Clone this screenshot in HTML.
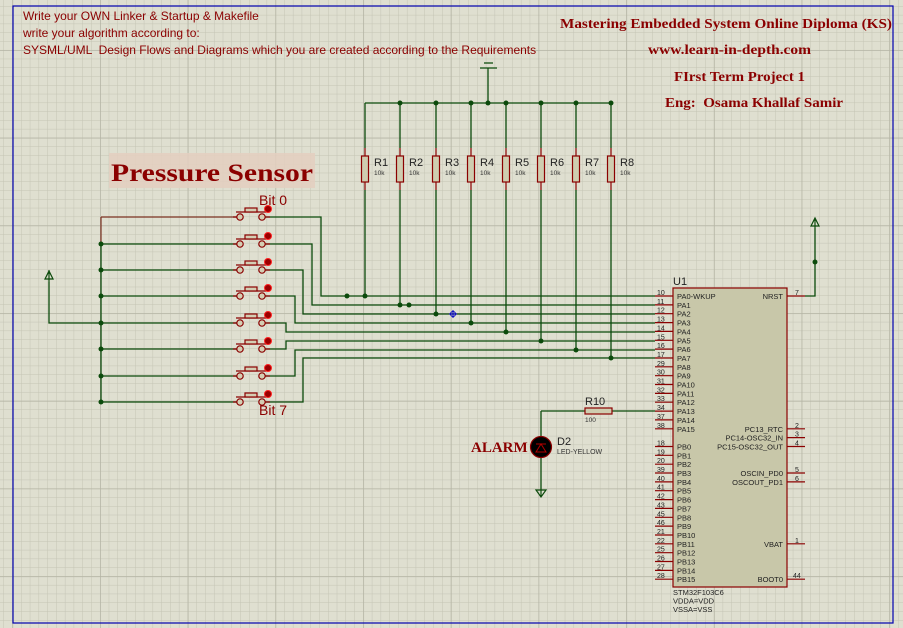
<!DOCTYPE html>
<html><head><meta charset="utf-8"><style>
html,body{margin:0;padding:0;background:#dfdfd0;}
svg{display:block;}
.s{font-family:"Liberation Sans",sans-serif;}
.pn{font-family:"Liberation Sans",sans-serif;font-size:7px;fill:#222;}
.pt{font-family:"Liberation Sans",sans-serif;font-size:7.5px;fill:#222;}
.sr{font-family:"Liberation Serif",serif;font-weight:bold;fill:#8b0000;}
</style></head><body>
<svg width="903" height="628" viewBox="0 0 903 628" xmlns="http://www.w3.org/2000/svg">
<defs>
<pattern id="mi" patternUnits="userSpaceOnUse" x="3.5" y="6.1" width="8.77" height="8.77">
<path d="M0 0H8.77M0 0V8.77" stroke="#c4c4b4" stroke-width="1" fill="none"/></pattern>
<pattern id="ma" patternUnits="userSpaceOnUse" x="100" y="50" width="87.7" height="87.7">
<path d="M0 0H87.7M0 0V87.7" stroke="#b4b4a4" stroke-width="1.5" fill="none"/></pattern>
</defs>
<rect width="903" height="628" fill="#dfdfd0"/>
<rect width="903" height="628" fill="url(#mi)"/>
<rect width="903" height="628" fill="url(#ma)"/>
<rect x="13" y="6" width="880" height="617" fill="none" stroke="#0000b0" stroke-width="1.2"/>

<!-- top left text -->
<g class="s" font-size="12" fill="#8b0000">
<text x="23" y="20">Write your OWN Linker &amp; Startup &amp; Makefile</text>
<text x="23" y="37">write your algorithm according to:</text>
<text x="23" y="54" xml:space="preserve">SYSML/UML  Design Flows and Diagrams which you are created according to the Requirements</text>
</g>
<!-- top right -->
<g class="sr" font-size="13.5">
<text x="560" y="28" textLength="332" lengthAdjust="spacingAndGlyphs">Mastering Embedded System Online Diploma (KS)</text>
<text x="648" y="54" textLength="163" lengthAdjust="spacingAndGlyphs">www.learn-in-depth.com</text>
<text x="674" y="81" textLength="131" lengthAdjust="spacingAndGlyphs">FIrst Term Project 1</text>
<text x="665" y="107" textLength="178" lengthAdjust="spacingAndGlyphs" xml:space="preserve">Eng:  Osama Khallaf Samir</text>
</g>

<!-- Pressure sensor -->
<rect x="109" y="153" width="206" height="35" fill="#e4cfc0" opacity="0.85"/>
<text class="sr" x="111" y="181" font-size="25" textLength="202" lengthAdjust="spacingAndGlyphs">Pressure Sensor</text>

<g stroke="#0b4a0b" stroke-width="1.3" fill="none">
<path d="M365 103H611M488 103V70"/>
<path d="M365 103V148M400 103V148M436 103V148M471 103V148M506 103V148M541 103V148M576 103V148M611 103V148"/>
<path d="M365 190V296M400 190V305M436 190V314M471 190V323M506 190V332M541 190V341M576 190V350M611 190V358"/>
<path d="M101 244V402M49 282V323H101"/>
<path d="M101 244H237M101 270H237M101 296H237M101 323H237M101 349H237M101 376H237M101 402H237"/>
<path d="M265 217H321V296H655"/>
<path d="M265 244H312V305H655"/>
<path d="M265 270H303V314H655"/>
<path d="M265 296H295V323H655"/>
<path d="M265 323H286V332H655"/>
<path d="M265 349H286V341H655"/>
<path d="M265 376H295V350H655"/>
<path d="M265 402H303V358H655"/>
<path d="M805 296H815V228"/>
<path d="M541 411H585M612 411H655M541 411V436M541 458V490"/>
</g>
<path d="M101 217H237M101 217V244" stroke="#7a3020" stroke-width="1.2" fill="none"/>

<g fill="#0b4a0b">
<circle cx="400" cy="103" r="2.5"/><circle cx="436" cy="103" r="2.5"/><circle cx="471" cy="103" r="2.5"/><circle cx="488" cy="103" r="2.5"/><circle cx="506" cy="103" r="2.5"/><circle cx="541" cy="103" r="2.5"/><circle cx="576" cy="103" r="2.5"/><circle cx="611" cy="103" r="2.5"/>
<circle cx="347" cy="296" r="2.5"/><circle cx="365" cy="296" r="2.5"/><circle cx="400" cy="305" r="2.5"/><circle cx="409" cy="305" r="2.5"/><circle cx="436" cy="314" r="2.5"/><circle cx="471" cy="323" r="2.5"/><circle cx="506" cy="332" r="2.5"/><circle cx="541" cy="341" r="2.5"/><circle cx="576" cy="350" r="2.5"/><circle cx="611" cy="358" r="2.5"/>
<circle cx="101" cy="244" r="2.5"/><circle cx="101" cy="270" r="2.5"/><circle cx="101" cy="296" r="2.5"/><circle cx="101" cy="323" r="2.5"/><circle cx="101" cy="349" r="2.5"/><circle cx="101" cy="376" r="2.5"/><circle cx="101" cy="402" r="2.5"/>
<circle cx="815" cy="262" r="2.5"/>
</g>
<path d="M453 310V318M449 314H457" stroke="#0000c0" stroke-width="1"/><circle cx="453" cy="314" r="2.5" fill="none" stroke="#0000c0"/>

<path d="M480 68H497M484 63H493M488 68V70" stroke="#0b4a0b" stroke-width="1.2"/>
<g stroke="#0b4a0b" stroke-width="1.2" fill="none">
<path d="M49 282V270M45 279L49 271L53 279Z"/>
<path d="M815 228V218M811 226L815 218L819 226Z"/>
<path d="M541 490V497M536 490H546L541 497Z"/>
</g>

<g stroke="#8b0000" stroke-width="1.2" fill="#cfcdb0">
<g fill="none"><path d="M365 148V156M365 182V190M400 148V156M400 182V190M436 148V156M436 182V190M471 148V156M471 182V190M506 148V156M506 182V190M541 148V156M541 182V190M576 148V156M576 182V190M611 148V156M611 182V190"/></g>
<rect x="361.5" y="156" width="7" height="26"/><rect x="396.5" y="156" width="7" height="26"/><rect x="432.5" y="156" width="7" height="26"/><rect x="467.5" y="156" width="7" height="26"/><rect x="502.5" y="156" width="7" height="26"/><rect x="537.5" y="156" width="7" height="26"/><rect x="572.5" y="156" width="7" height="26"/><rect x="607.5" y="156" width="7" height="26"/>
<rect x="585" y="408" width="27" height="6"/>
</g>
<g class="s" font-size="11" fill="#222">
<text x="374" y="166">R1</text><text x="409" y="166">R2</text><text x="445" y="166">R3</text><text x="480" y="166">R4</text><text x="515" y="166">R5</text><text x="550" y="166">R6</text><text x="585" y="166">R7</text><text x="620" y="166">R8</text>
<text x="585" y="405">R10</text><text x="557" y="445">D2</text>
</g>
<g class="s" font-size="6.5" fill="#333">
<text x="374" y="175">10k</text><text x="409" y="175">10k</text><text x="445" y="175">10k</text><text x="480" y="175">10k</text><text x="515" y="175">10k</text><text x="550" y="175">10k</text><text x="585" y="175">10k</text><text x="620" y="175">10k</text>
<text x="585" y="422">100</text><text x="557" y="454" font-size="7">LED-YELLOW</text>
</g>

<circle cx="541" cy="447" r="10.5" fill="#000" stroke="#8b0000" stroke-width="1.2"/>
<path d="M536 452L541 444L546 452ZM536 444H546" fill="none" stroke="#b00000" stroke-width="1"/>
<text class="sr" x="471" y="452" font-size="15">ALARM</text>

<g>
<g stroke="#8b0000" stroke-width="1.2" fill="#d4ceb4">
<path d="M233 217H237M265 217H270M236 212H266" fill="none"/><rect x="245" y="208" width="12" height="4"/><circle cx="240" cy="217" r="3.2"/><circle cx="262" cy="217" r="3.2"/>
<path d="M233 244H237M265 244H270M236 239H266" fill="none"/><rect x="245" y="235" width="12" height="4"/><circle cx="240" cy="244" r="3.2"/><circle cx="262" cy="244" r="3.2"/>
<path d="M233 270H237M265 270H270M236 265H266" fill="none"/><rect x="245" y="261" width="12" height="4"/><circle cx="240" cy="270" r="3.2"/><circle cx="262" cy="270" r="3.2"/>
<path d="M233 296H237M265 296H270M236 291H266" fill="none"/><rect x="245" y="287" width="12" height="4"/><circle cx="240" cy="296" r="3.2"/><circle cx="262" cy="296" r="3.2"/>
<path d="M233 323H237M265 323H270M236 318H266" fill="none"/><rect x="245" y="314" width="12" height="4"/><circle cx="240" cy="323" r="3.2"/><circle cx="262" cy="323" r="3.2"/>
<path d="M233 349H237M265 349H270M236 344H266" fill="none"/><rect x="245" y="340" width="12" height="4"/><circle cx="240" cy="349" r="3.2"/><circle cx="262" cy="349" r="3.2"/>
<path d="M233 376H237M265 376H270M236 371H266" fill="none"/><rect x="245" y="367" width="12" height="4"/><circle cx="240" cy="376" r="3.2"/><circle cx="262" cy="376" r="3.2"/>
<path d="M233 402H237M265 402H270M236 397H266" fill="none"/><rect x="245" y="393" width="12" height="4"/><circle cx="240" cy="402" r="3.2"/><circle cx="262" cy="402" r="3.2"/>
</g>
<g fill="#9a0000" stroke="#ff2020" stroke-width="1">
<circle cx="268" cy="209" r="3.5"/><circle cx="268" cy="236" r="3.5"/><circle cx="268" cy="262" r="3.5"/><circle cx="268" cy="288" r="3.5"/><circle cx="268" cy="315" r="3.5"/><circle cx="268" cy="341" r="3.5"/><circle cx="268" cy="368" r="3.5"/><circle cx="268" cy="394" r="3.5"/>
</g>
</g>
<g class="s" font-size="14" fill="#8b0000"><text x="259" y="205">Bit 0</text><text x="259" y="415">Bit 7</text></g>

<rect x="673" y="288" width="114" height="299" fill="#c8c7a9" stroke="#8b0000" stroke-width="1.2"/>
<text class="s" x="673" y="285" font-size="11" fill="#222">U1</text>
<g stroke="#8b0000" stroke-width="1.2">
<path d="M655 296H673M655 304.9H673M655 313.7H673M655 322.6H673M655 331.4H673M655 340.3H673M655 349.1H673M655 358H673M655 366.8H673M655 375.7H673M655 384.5H673M655 393.4H673M655 402.2H673M655 411.1H673M655 419.9H673M655 428.8H673"/>
<path d="M655 446.5H673M655 455.3H673M655 464.2H673M655 473H673M655 481.9H673M655 490.7H673M655 499.6H673M655 508.4H673M655 517.3H673M655 526.1H673M655 535H673M655 543.8H673M655 552.7H673M655 561.5H673M655 570.4H673M655 579.2H673"/>
<path d="M787 296H805M787 428.8H805M787 437.6H805M787 446.5H805M787 473H805M787 481.9H805M787 543.8H805M787 579.2H805"/>
</g>
<g class="pn">
<text x="657" y="295">10</text><text x="657" y="303.9">11</text><text x="657" y="312.7">12</text><text x="657" y="321.6">13</text><text x="657" y="330.4">14</text><text x="657" y="339.3">15</text><text x="657" y="348.1">16</text><text x="657" y="357">17</text><text x="657" y="365.8">29</text><text x="657" y="374.7">30</text><text x="657" y="383.5">31</text><text x="657" y="392.4">32</text><text x="657" y="401.2">33</text><text x="657" y="410.1">34</text><text x="657" y="418.9">37</text><text x="657" y="427.8">38</text>
<text x="657" y="445.5">18</text><text x="657" y="454.3">19</text><text x="657" y="463.2">20</text><text x="657" y="472">39</text><text x="657" y="480.9">40</text><text x="657" y="489.7">41</text><text x="657" y="498.6">42</text><text x="657" y="507.4">43</text><text x="657" y="516.3">45</text><text x="657" y="525.1">46</text><text x="657" y="534">21</text><text x="657" y="542.8">22</text><text x="657" y="551.7">25</text><text x="657" y="560.5">26</text><text x="657" y="569.4">27</text><text x="657" y="578.2">28</text>
<text x="795" y="295">7</text><text x="795" y="427.8">2</text><text x="795" y="436.6">3</text><text x="795" y="445.5">4</text><text x="795" y="472">5</text><text x="795" y="480.9">6</text><text x="795" y="542.8">1</text><text x="793" y="578.2">44</text>
</g>
<g class="pt">
<text x="677" y="299">PA0-WKUP</text><text x="677" y="307.9">PA1</text><text x="677" y="316.7">PA2</text><text x="677" y="325.6">PA3</text><text x="677" y="334.4">PA4</text><text x="677" y="343.3">PA5</text><text x="677" y="352.1">PA6</text><text x="677" y="361">PA7</text><text x="677" y="369.8">PA8</text><text x="677" y="378.7">PA9</text><text x="677" y="387.5">PA10</text><text x="677" y="396.4">PA11</text><text x="677" y="405.2">PA12</text><text x="677" y="414.1">PA13</text><text x="677" y="422.9">PA14</text><text x="677" y="431.8">PA15</text>
<text x="677" y="449.5">PB0</text><text x="677" y="458.3">PB1</text><text x="677" y="467.2">PB2</text><text x="677" y="476">PB3</text><text x="677" y="484.9">PB4</text><text x="677" y="493.7">PB5</text><text x="677" y="502.6">PB6</text><text x="677" y="511.4">PB7</text><text x="677" y="520.3">PB8</text><text x="677" y="529.1">PB9</text><text x="677" y="538">PB10</text><text x="677" y="546.8">PB11</text><text x="677" y="555.7">PB12</text><text x="677" y="564.5">PB13</text><text x="677" y="573.4">PB14</text><text x="677" y="582.2">PB15</text>
</g>
<g class="pt" text-anchor="end">
<text x="783" y="299">NRST</text><text x="783" y="431.8">PC13_RTC</text><text x="783" y="440.6">PC14-OSC32_IN</text><text x="783" y="449.5">PC15-OSC32_OUT</text><text x="783" y="476">OSCIN_PD0</text><text x="783" y="484.9">OSCOUT_PD1</text><text x="783" y="546.8">VBAT</text><text x="783" y="582.2">BOOT0</text>
</g>
<g class="pt"><text x="673" y="595">STM32F103C6</text><text x="673" y="603.5">VDDA=VDD</text><text x="673" y="612">VSSA=VSS</text></g>
</svg>
</body></html>
